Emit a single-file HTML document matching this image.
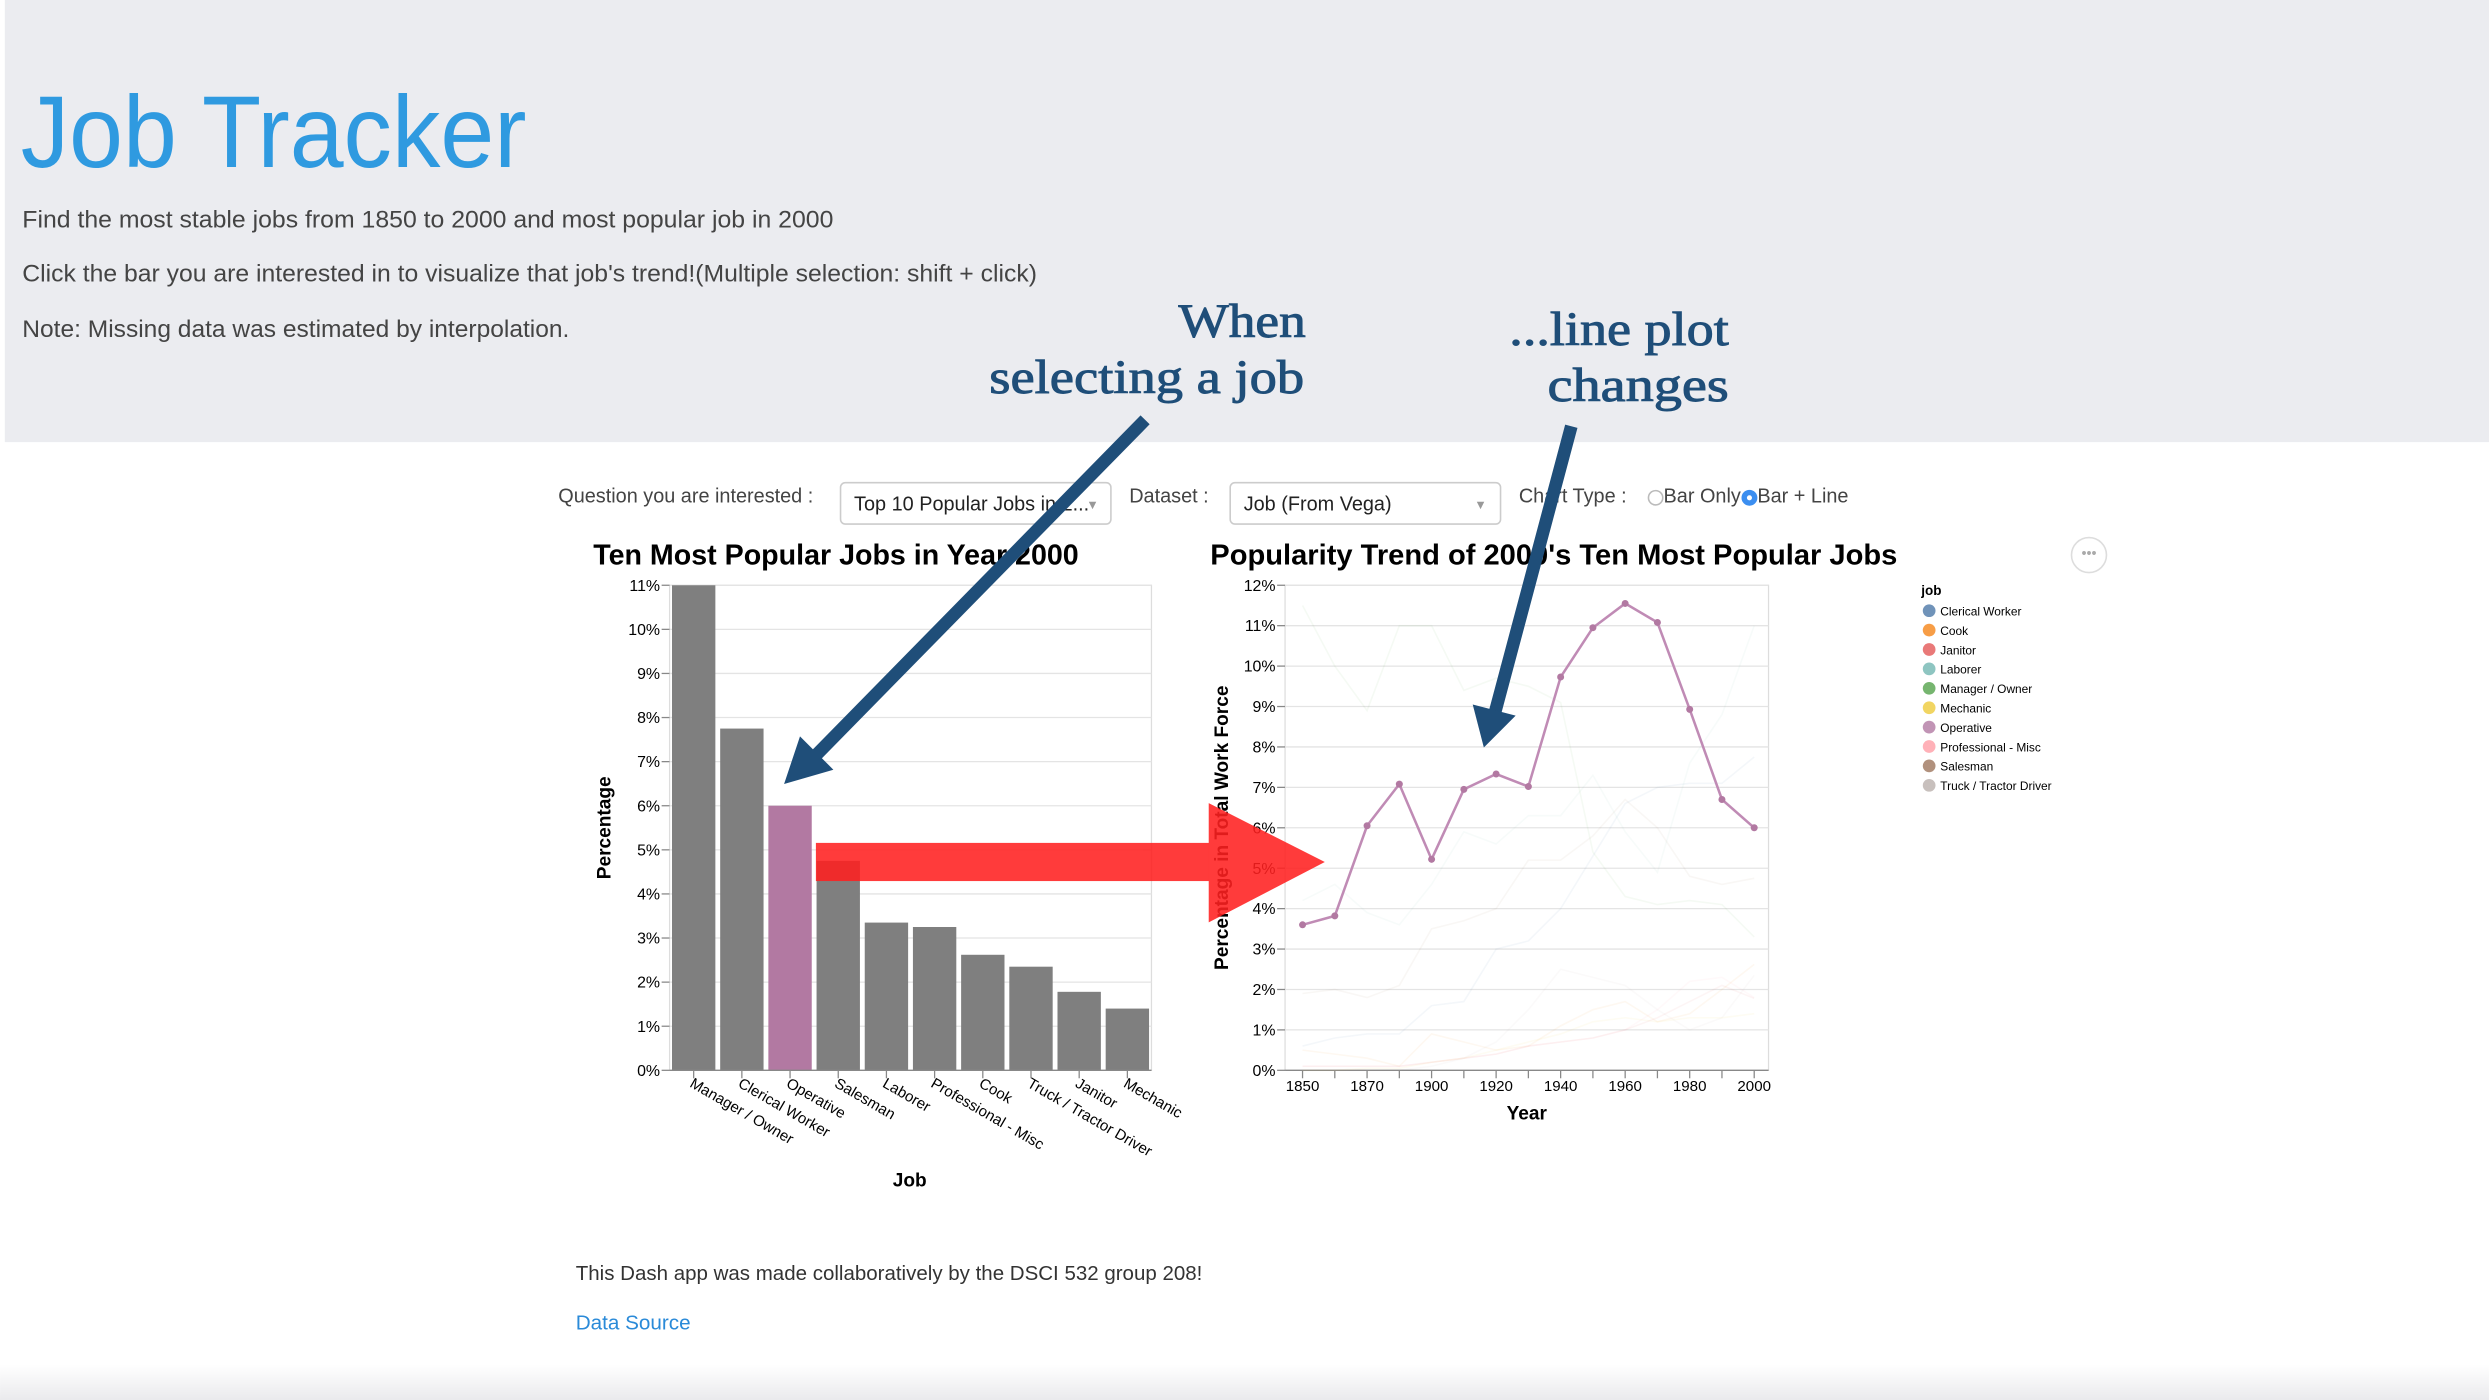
<!DOCTYPE html>
<html><head><meta charset="utf-8"><style>
html,body{margin:0;padding:0;background:#fff;}
svg{display:block;font-family:"Liberation Sans",Arial,sans-serif;}
</style></head><body>
<svg id="root" width="2489" height="1400" viewBox="0 0 1565 880.3" xmlns="http://www.w3.org/2000/svg">
<defs>
<linearGradient id="fade" x1="0" y1="0" x2="0" y2="1"><stop offset="0" stop-color="#fff"/><stop offset="1" stop-color="#e9e9ec"/></linearGradient>
</defs>
<rect x="3" y="0" width="1562" height="278" fill="#ebecf0"/>
<rect x="0" y="858" width="1565" height="23" fill="url(#fade)"/>
<text x="13" y="105" font-size="64" fill="#2f9ae0" textLength="318" lengthAdjust="spacingAndGlyphs">Job Tracker</text>
<g font-size="15" fill="#444">
<text x="14" y="143" textLength="510" lengthAdjust="spacingAndGlyphs">Find the most stable jobs from 1850 to 2000 and most popular job in 2000</text>
<text x="14" y="177" textLength="638" lengthAdjust="spacingAndGlyphs">Click the bar you are interested in to visualize that job's trend!(Multiple selection: shift + click)</text>
<text x="14" y="212" textLength="344" lengthAdjust="spacingAndGlyphs">Note: Missing data was estimated by interpolation.</text>
</g>
<g font-family="'Liberation Serif',serif" font-size="30" fill="#1f4e79" stroke="#1f4e79" stroke-width="0.6">
<text x="741" y="212" textLength="80" lengthAdjust="spacingAndGlyphs">When</text>
<text x="622" y="247" textLength="198" lengthAdjust="spacingAndGlyphs">selecting a job</text>
<text x="949" y="217" textLength="138" lengthAdjust="spacingAndGlyphs">...line plot</text>
<text x="973" y="252" textLength="114" lengthAdjust="spacingAndGlyphs">changes</text>
</g>
<!-- controls -->
<g font-size="12.5" fill="#444">
<text x="351" y="316">Question you are interested :</text>
<rect x="528.5" y="303.5" width="170" height="26" rx="3" fill="#fff" stroke="#ccc"/>
<text x="537" y="321" fill="#222">Top 10 Popular Jobs in 2...</text>
<text x="683" y="320" font-size="8" fill="#999">▼</text>
<text x="710" y="316">Dataset :</text>
<rect x="773.5" y="303.5" width="170" height="26" rx="3" fill="#fff" stroke="#ccc"/>
<text x="782" y="321" fill="#222">Job (From Vega)</text>
<text x="927" y="320" font-size="8" fill="#999">▼</text>
<text x="955" y="316">Chart Type :</text>
<circle cx="1041" cy="313" r="4.5" fill="#fff" stroke="#bbb"/>
<text x="1046" y="316">Bar Only</text>
<circle cx="1100" cy="313" r="4.5" fill="#3b8ef0" stroke="#3b8ef0"/>
<circle cx="1100" cy="313" r="1.6" fill="#fff"/>
<text x="1105" y="316">Bar + Line</text>
</g>
<g id="bar-chart"></g>
<g id="line-chart"></g>
<circle cx="1313.5" cy="349" r="11" fill="#fff" stroke="#ddd"/>
<text x="1313.5" y="351" font-size="9" fill="#aaa" text-anchor="middle">•••</text>
<g id="legend"></g>
<!-- annotation arrows -->
<g fill="#1f4e79">
<line x1="720" y1="264" x2="510" y2="478" stroke="#1f4e79" stroke-width="8"/>
<polygon points="493,493 503,463 524,484"/>
<line x1="988" y1="268" x2="940" y2="448" stroke="#1f4e79" stroke-width="8"/>
<polygon points="933,470 926,443 953,450"/>
</g>
<g fill="#ff2020" opacity="0.88">
<rect x="513" y="530" width="248" height="24"/>
<polygon points="760,505 833,542 760,580"/>
</g>
<text x="362" y="805" font-size="13" fill="#333" textLength="394" lengthAdjust="spacingAndGlyphs">This Dash app was made collaboratively by the DSCI 532 group 208!</text>
<text x="362" y="836" font-size="13" fill="#2a8ad8">Data Source</text>
</svg>
<script>
const NS='http://www.w3.org/2000/svg';
function mk(parent,tag,attrs,text){const e=document.createElementNS(NS,tag);for(const k in attrs)e.setAttribute(k,attrs[k]);if(text!==undefined)e.textContent=text;parent.appendChild(e);return e;}

// ---------- bar chart data ----------
const barJobs=['Manager / Owner','Clerical Worker','Operative','Salesman','Laborer','Professional - Misc','Cook','Truck / Tractor Driver','Janitor','Mechanic'];
const barValues=[11.0,7.75,6.0,4.75,3.35,3.25,2.62,2.35,1.78,1.4];
const barTicks=[0,1,2,3,4,5,6,7,8,9,10,11];
const selectedJob='Operative';

// ---------- line chart data ----------
const years=[1850,1860,1870,1880,1900,1910,1920,1930,1940,1950,1960,1970,1980,1990,2000];
const yearLabels=[1850,1870,1900,1920,1940,1960,1980,2000];
const lineTicks=[0,1,2,3,4,5,6,7,8,9,10,11,12];
const operative=[3.6,3.82,6.05,7.08,5.22,6.95,7.33,7.02,9.73,10.95,11.55,11.08,8.93,6.7,6.0];
const managerOwner=[11.5,10.0,8.9,11.0,11.0,9.4,9.7,9.5,9.1,5.4,4.3,4.1,4.2,4.1,3.3];
const clerical=[0.6,0.8,0.9,0.9,1.6,1.7,3.0,3.2,4.0,5.3,6.6,7.0,7.1,7.1,7.75];
const laborer=[4.2,4.6,3.9,3.6,4.6,5.9,5.6,6.3,6.3,7.3,5.9,4.9,7.6,8.8,11.0];
const salesman=[1.9,2.0,1.8,2.1,3.5,3.7,4.0,5.2,5.2,5.8,6.7,6.0,4.8,4.6,4.75];
const professional=[0.1,0.1,0.1,0.1,0.2,0.3,0.4,0.6,0.7,0.8,1.0,1.5,2.2,2.3,1.8];
const cook=[0.5,0.4,0.3,0.1,0.9,0.7,0.5,0.6,1.1,1.5,1.7,1.2,1.4,2.0,2.62];
const truck=[0.0,0.0,0.0,0.0,0.1,0.3,0.7,1.5,2.5,2.3,2.1,1.5,1.0,1.3,2.35];
const janitor=[0.1,0.1,0.1,0.1,0.2,0.3,0.4,0.6,0.7,0.8,1.0,1.3,1.7,2.1,1.78];
const mechanic=[0.0,0.0,0.05,0.05,0.2,0.3,0.5,0.7,0.9,1.2,1.3,1.2,1.3,1.3,1.4];

const legendJobs=['Clerical Worker','Cook','Janitor','Laborer','Manager / Owner','Mechanic','Operative','Professional - Misc','Salesman','Truck / Tractor Driver'];
const legendColors=['#4c78a8','#f58518','#e45756','#72b7b2','#54a24b','#eeca3b','#b279a2','#ff9da6','#9d755d','#bab0ac'];

// ---------- bar chart ----------
(function(){
const g=document.getElementById('bar-chart');
const L=421,R=724,T=368,B=673,ymax=11;
const y=v=>B-(v/ymax)*(B-T);
const step=(R-L)/barJobs.length, pad=0.05*step;
const x=i=>L+i*step;
mk(g,'text',{x:373,y:355,'font-size':18,'font-weight':'bold',fill:'#000',},'Ten Most Popular Jobs in Year 2000');
mk(g,'rect',{x:L,y:T,width:R-L,height:B-T,fill:'none',stroke:'#ddd','stroke-width':0.8});
barTicks.forEach(t=>{
  const gl=mk(g,'line',{x1:L,x2:R,y1:y(t),y2:y(t),stroke:'#e4e4e4','stroke-width':0.8});
  
  
  mk(g,'line',{x1:L-5,x2:L,y1:y(t),y2:y(t),stroke:'#888','stroke-width':0.8});
  const tl=mk(g,'text',{x:L-6,y:y(t)+3.5,'font-size':10,'text-anchor':'end',fill:'#000'},t+'%');
  
  
});
barJobs.forEach((j,i)=>{
  const r=mk(g,'rect',{x:x(i)+pad,y:y(barValues[i]),width:step-2*pad,height:B-y(barValues[i]),fill:j===selectedJob?'#b279a2':'#7f7f7f'});
  
  
  const cx=x(i)+step/2;
  mk(g,'line',{x1:cx,x2:cx,y1:B,y2:B+5,stroke:'#888','stroke-width':0.8});
  const tl=mk(g,'text',{x:0,y:0,'font-size':9.5,fill:'#000',transform:`translate(${cx-3},${B+10}) rotate(30)`},j);
  
  
});
mk(g,'line',{x1:L,x2:R,y1:B,y2:B,stroke:'#888','stroke-width':0.8});
mk(g,'text',{x:0,y:0,'font-size':12,'font-weight':'bold','text-anchor':'middle',transform:`translate(384,${(T+B)/2}) rotate(-90)`,},'Percentage');
mk(g,'text',{x:572,y:746,'font-size':12,'font-weight':'bold','text-anchor':'middle',},'Job');
})();

// ---------- line chart ----------
(function(){
const g=document.getElementById('line-chart');
const L=808,R=1112,T=368,B=673,ymax=12;
const x0=819,x1=1103;
const y=v=>B-(v/ymax)*(B-T);
const x=i=>x0+i*(x1-x0)/(years.length-1);
mk(g,'text',{x:761,y:355,'font-size':18,'font-weight':'bold',fill:'#000',textLength:432,lengthAdjust:'spacingAndGlyphs',},"Popularity Trend of 2000's Ten Most Popular Jobs");
mk(g,'rect',{x:L,y:T,width:R-L,height:B-T,fill:'none',stroke:'#ddd','stroke-width':0.8});
lineTicks.forEach(t=>{
  const gl=mk(g,'line',{x1:L,x2:R,y1:y(t),y2:y(t),stroke:'#e4e4e4','stroke-width':0.8});
  
  
  mk(g,'line',{x1:L-5,x2:L,y1:y(t),y2:y(t),stroke:'#888','stroke-width':0.8});
  const tl=mk(g,'text',{x:L-6,y:y(t)+3.5,'font-size':10,'text-anchor':'end',fill:'#000'},t+'%');
  
  
});
years.forEach((yr,i)=>{
  mk(g,'line',{x1:x(i),x2:x(i),y1:B,y2:B+5,stroke:'#888','stroke-width':0.8});
  if(yearLabels.indexOf(yr)>=0){
    const tl=mk(g,'text',{x:x(i),y:B+13,'font-size':9.5,'text-anchor':'middle',fill:'#000'},String(yr));
    
    
  }
});
mk(g,'line',{x1:L,x2:R,y1:B,y2:B,stroke:'#888','stroke-width':0.8});
const faint=[[managerOwner,'#54a24b'],[clerical,'#4c78a8'],[laborer,'#72b7b2'],[salesman,'#9d755d'],[professional,'#ff9da6'],[cook,'#f58518'],[truck,'#bab0ac'],[janitor,'#e45756'],[mechanic,'#eeca3b']];
faint.forEach(([s,c])=>{
  const p=mk(g,'path',{d:s.map((v,i)=>(i?'L':'M')+x(i)+','+y(v)).join(''),fill:'none',stroke:c,'stroke-width':1,opacity:0.06});
  
  
});
const p=mk(g,'path',{d:operative.map((v,i)=>(i?'L':'M')+x(i)+','+y(v)).join(''),fill:'none',stroke:'#c08bb5','stroke-width':1.6});


operative.forEach((v,i)=>{
  const c=mk(g,'circle',{cx:x(i),cy:y(v),r:2.2,fill:'#b279a2'});
  
  
});
mk(g,'text',{x:0,y:0,'font-size':12,'font-weight':'bold','text-anchor':'middle',transform:`translate(772,${(T+B)/2}) rotate(-90)`,},'Percentage in Total Work Force');
mk(g,'text',{x:960,y:704,'font-size':12,'font-weight':'bold','text-anchor':'middle',},'Year');
})();

// ---------- legend ----------
(function(){
const g=document.getElementById('legend');
mk(g,'text',{x:1208,y:374,'font-size':8.5,'font-weight':'bold',fill:'#000',},'job');
legendJobs.forEach((j,i)=>{
  const cy=384+i*12.2;
  const c=mk(g,'circle',{cx:1213,cy:cy,r:4,fill:legendColors[i],opacity:0.8});
  
  
  const t=mk(g,'text',{x:1220,y:cy+3,'font-size':7.5,fill:'#000'},j);
  
  
});
})();
</script>
</body></html>
